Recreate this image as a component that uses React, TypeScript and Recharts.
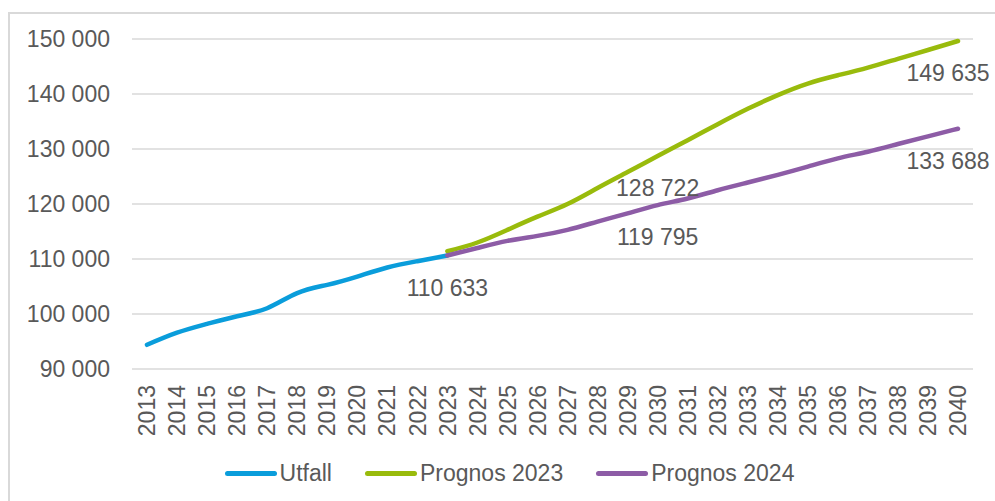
import { LineChart, Line, XAxis, YAxis, CartesianGrid, Legend } from "recharts";

const years = [
  "2013", "2014", "2015", "2016", "2017", "2018", "2019", "2020", "2021", "2022",
  "2023", "2024", "2025", "2026", "2027", "2028", "2029", "2030", "2031", "2032",
  "2033", "2034", "2035", "2036", "2037", "2038", "2039", "2040",
];

const utfall = [94400, 96600, 98200, 99600, 101050, 103800, 105300, 106800, 108450, 109600, 110633];

// prognoses start in 2023
const prognos2023 = [
  111400, 113000, 115300, 117700, 120000, 122900, 125800, 128722, 131600, 134500,
  137300, 139800, 141900, 143400, 144800, 146400, 148000, 149635,
];

const prognos2024 = [
  110633, 112000, 113300, 114200, 115300, 116800, 118300, 119795, 121000, 122500,
  123900, 125300, 126800, 128300, 129500, 130900, 132300, 133688,
];

const yTicks = [90000, 100000, 110000, 120000, 130000, 140000, 150000];

const utfallLabels = ["2023"];
const prognos2023Labels = ["2030", "2040"];
const prognos2024Labels = ["2030", "2040"];

const FONT = "'Liberation Sans', Arial, sans-serif";
const TEXT = "#595959";
const GRID = "#d9d9d9";

const series = [
  { key: "utfall", name: "Utfall", color: "#0a9ddb", labels: utfallLabels },
  { key: "p2023", name: "Prognos 2023", color: "#99bb0c", labels: prognos2023Labels },
  { key: "p2024", name: "Prognos 2024", color: "#8d5ca6", labels: prognos2024Labels },
];

const start = years.length - prognos2023.length;
const data = years.map((year, i) => ({
  year,
  utfall: i < utfall.length ? utfall[i] : null,
  p2023: i >= start ? prognos2023[i - start] : null,
  p2024: i >= start ? prognos2024[i - start] : null,
}));

const fmt = (n: number) => String(n).replace(/\B(?=(\d{3})+(?!\d))/g, " ");

function makeLabel(labels: string[]) {
  return (props: any) => {
    const { x, y, index, value } = props;
    if (value == null || !labels.includes(years[index])) return null;
    const dx = index === years.length - 1 ? -10 : 0;
    return (
      <text
        key={`lbl-${index}`}
        x={x + dx}
        y={y + 32}
        dy="0.355em"
        textAnchor="middle"
        fill={TEXT}
        fontSize={23}
        fontFamily={FONT}
      >
        {fmt(value)}
      </text>
    );
  };
}

const YearTick = (props: any) => {
  const { x, y, payload } = props;
  return (
    <g transform={`translate(${x},${y + 16}) rotate(-90)`}>
      <text x={0} y={0} dy="0.355em" textAnchor="end" fill={TEXT} fontSize={23} fontFamily={FONT}>
        {payload.value}
      </text>
    </g>
  );
};

const LegendContent = () => (
  <div
    style={{
      display: "flex",
      justifyContent: "center",
      alignItems: "center",
      height: 24,
      fontFamily: FONT,
      fontSize: 23,
      color: TEXT,
      gap: 33,
    }}
  >
    {series.map((s) => (
      <div key={s.key} style={{ display: "flex", alignItems: "center", gap: 3 }}>
        <div style={{ width: 52, height: 5, borderRadius: 3, backgroundColor: s.color }} />
        <span>{s.name}</span>
      </div>
    ))}
  </div>
);

export default function App() {
  return (
    <div style={{ position: "absolute", left: 0, top: 0, width: 995, height: 501, overflow: "hidden", background: "#fff" }}>
      <div
        style={{
          position: "absolute",
          left: 8,
          top: 12,
          width: 1100,
          height: 600,
          borderTop: `2px solid ${GRID}`,
          borderLeft: `2px solid ${GRID}`,
        }}
      />
      <LineChart width={995} height={501} data={data} margin={{ top: 39, right: 22, left: 0, bottom: 0 }}>
        <CartesianGrid vertical={false} stroke={GRID} strokeWidth={1.5} />
        <XAxis
          dataKey="year"
          interval={0}
          padding={{ left: 15, right: 15 }}
          axisLine={false}
          tickLine={false}
          tickSize={0}
          tickMargin={0}
          height={92}
          tick={<YearTick />}
        />
        <YAxis
          domain={[90000, 150000]}
          ticks={yTicks}
          width={132}
          axisLine={false}
          tickLine={false}
          tickSize={0}
          tickMargin={22}
          tickFormatter={fmt}
          tick={{ fill: TEXT, fontSize: 23, fontFamily: FONT }}
        />
        <Legend
          verticalAlign="bottom"
          height={40}
          content={<LegendContent />}
          wrapperStyle={{ left: 12, width: 995, paddingTop: 0 }}
        />
        {series.map((s) => (
          <Line
            key={s.key}
            dataKey={s.key}
            name={s.name}
            type="natural"
            stroke={s.color}
            strokeWidth={4.5}
            strokeLinecap="round"
            strokeLinejoin="round"
            dot={false}
            activeDot={false}
            connectNulls={false}
            isAnimationActive={false}
            label={makeLabel(s.labels)}
          />
        ))}
      </LineChart>
    </div>
  );
}
